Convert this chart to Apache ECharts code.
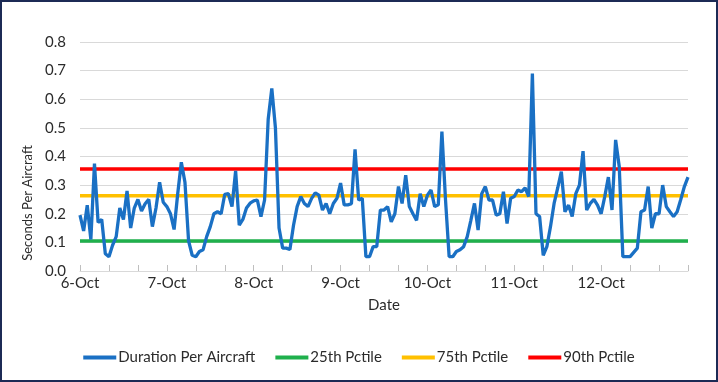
<!DOCTYPE html>
<html>
<head>
<meta charset="utf-8">
<script src="https://cdn.jsdelivr.net/npm/echarts@6/dist/echarts.min.js"></script>
<style>
  html, body { margin: 0; padding: 0; background: #fff; }
  #frame { width: 718px; height: 382px; box-sizing: border-box; border: 2px solid #1c2a55; background: #fff; }
  #chart { width: 714px; height: 378px; }
</style>
</head>
<body>
<div id="frame"><div id="chart"></div></div>
<script>
// Day labels (one per 24 hourly points)
const dayLabels = ['6-Oct', '7-Oct', '8-Oct', '9-Oct', '10-Oct', '11-Oct', '12-Oct', '13-Oct'];
const hoursPerDay = 24;

// Hourly duration per aircraft (seconds)
const durationPerAircraft = [
  0.195, 0.14, 0.23, 0.11, 0.375, 0.17, 0.18, 0.06, 0.05, 0.09, 0.12, 0.22,
  0.18, 0.28, 0.15, 0.22, 0.25, 0.21, 0.235, 0.25, 0.155, 0.22, 0.31, 0.24,
  0.225, 0.2, 0.145, 0.27, 0.38, 0.31, 0.105, 0.055, 0.05, 0.068, 0.074, 0.12,
  0.155, 0.2, 0.207, 0.2, 0.268, 0.27, 0.225, 0.35, 0.16, 0.18, 0.22, 0.237,
  0.245, 0.248, 0.19, 0.248, 0.53, 0.638, 0.5, 0.15, 0.08, 0.08, 0.075, 0.16,
  0.225, 0.26, 0.236, 0.225, 0.254, 0.273, 0.265, 0.213, 0.236, 0.2, 0.236, 0.254,
  0.307, 0.231, 0.231, 0.235, 0.425, 0.248, 0.254, 0.05, 0.05, 0.085, 0.085, 0.213,
  0.213, 0.225, 0.172, 0.2, 0.295, 0.236, 0.335, 0.225, 0.2, 0.177, 0.27, 0.225,
  0.265, 0.283, 0.225, 0.231, 0.487, 0.248, 0.05, 0.05, 0.068, 0.074, 0.085, 0.12,
  0.177, 0.236, 0.143, 0.27, 0.295, 0.248, 0.248, 0.195, 0.2, 0.277, 0.166, 0.254,
  0.26, 0.283, 0.277, 0.29, 0.26, 0.69, 0.2, 0.19, 0.055, 0.085, 0.155, 0.236,
  0.29, 0.347, 0.207, 0.23, 0.19, 0.27, 0.3, 0.419, 0.213, 0.236, 0.25, 0.23,
  0.2, 0.26, 0.328, 0.213, 0.458, 0.365, 0.05, 0.05, 0.05, 0.065, 0.08, 0.207,
  0.213, 0.295, 0.15, 0.2, 0.2, 0.3, 0.225, 0.207, 0.19, 0.207, 0.25, 0.295,
  0.328
];

// Percentile reference values
const pctile25 = 0.105;
const pctile75 = 0.263;
const pctile90 = 0.356;

// Y tick labels
const yTicks = ['0.0', '0.1', '0.2', '0.3', '0.4', '0.5', '0.6', '0.7', '0.8'];

// Build hourly categories from the day labels
const categories = [];
for (let i = 0; i < durationPerAircraft.length; i++) {
  const d = Math.floor(i / hoursPerDay);
  categories.push(dayLabels[d] + ' ' + (i % hoursPerDay) + ':00');
}
const constLine = v => categories.map(() => v);

const FONT = 'Lato, "Open Sans", sans-serif';
const TXT = '#2b2b2b';

const chart = echarts.init(document.getElementById('chart'), null, { renderer: 'canvas' });
chart.setOption({
  animation: false,
  backgroundColor: '#ffffff',
  grid: { left: 78, right: 28, top: 40, bottom: 109, containLabel: false },
  legend: {
    bottom: 10,
    left: 'center',
    itemWidth: 33,
    itemHeight: 4,
    itemGap: 20,
    icon: 'rect',
    textStyle: { fontFamily: FONT, fontSize: 15, color: TXT, padding: [0, 0, 0, -3] },
    data: ['Duration Per Aircraft', '25th Pctile', '75th Pctile', '90th Pctile']
  },
  xAxis: {
    type: 'category',
    data: categories,
    boundaryGap: false,
    name: 'Date',
    nameLocation: 'middle',
    nameGap: 27,
    nameTextStyle: { fontFamily: FONT, fontSize: 15, color: TXT },
    axisLine: { lineStyle: { color: '#d9d9d9', width: 1 } },
    axisTick: {
      inside: true, length: 6,
      interval: i => i % 8 === 0,
      lineStyle: { color: '#bfbfbf' }
    },
    axisLabel: {
      interval: i => i % hoursPerDay === 0 && i < categories.length - 1,
      formatter: v => v.split(' ')[0],
      fontFamily: FONT, fontSize: 15, color: TXT, margin: 5
    },
    splitLine: { show: false }
  },
  yAxis: {
    type: 'value',
    min: 0, max: 0.8, interval: 0.1,
    axisLine: { show: false },
    axisTick: { show: false },
    axisLabel: {
      formatter: v => yTicks[Math.round(v * 10)],
      fontFamily: FONT, fontSize: 15, color: TXT, margin: 14
    },
    splitLine: { lineStyle: { color: '#d9d9d9', width: 1 } }
  },
  graphic: [{
    type: 'text',
    x: 26, y: 201,
    rotation: Math.PI / 2,
    style: {
      text: 'Seconds Per Aircraft',
      font: '13px ' + FONT,
      fill: TXT,
      align: 'center',
      verticalAlign: 'middle'
    }
  }],
  series: [
    {
      name: 'Duration Per Aircraft', type: 'line', data: durationPerAircraft,
      showSymbol: false, symbol: 'none', z: 5,
      lineStyle: { color: '#1a70c4', width: 3.3 }, itemStyle: { color: '#1a70c4' }
    },
    {
      name: '25th Pctile', type: 'line', data: constLine(pctile25),
      showSymbol: false, symbol: 'none', z: 3,
      lineStyle: { color: '#1fb04c', width: 3.5 }, itemStyle: { color: '#1fb04c' }
    },
    {
      name: '75th Pctile', type: 'line', data: constLine(pctile75),
      showSymbol: false, symbol: 'none', z: 3,
      lineStyle: { color: '#ffc000', width: 3.5 }, itemStyle: { color: '#ffc000' }
    },
    {
      name: '90th Pctile', type: 'line', data: constLine(pctile90),
      showSymbol: false, symbol: 'none', z: 3,
      lineStyle: { color: '#ff0000', width: 3.5 }, itemStyle: { color: '#ff0000' }
    }
  ]
});
</script>
</body>
</html>
